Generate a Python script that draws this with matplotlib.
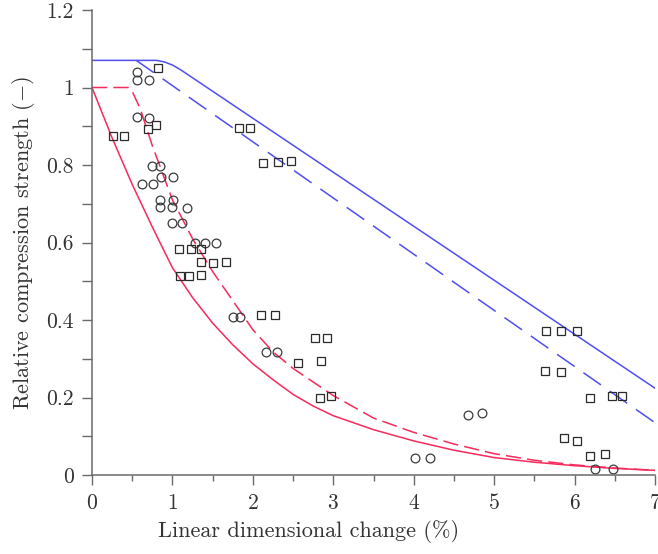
import matplotlib
matplotlib.use("Agg")
import matplotlib.pyplot as plt
import numpy as np

plt.rcParams['font.family'] = 'serif'
plt.rcParams['font.serif'] = ['cmr10', 'DejaVu Serif']
plt.rcParams['mathtext.fontset'] = 'cm'
plt.rcParams['axes.formatter.use_mathtext'] = True

# model curves
blue_x = [0, 0.8, 0.9, 1.0, 1.1, 7.0]
blue_y = [1.07, 1.07, 1.066, 1.058, 1.046, 0.224]
blue_dash_x = [0.55, 7.0]
blue_dash_y = [1.07, 0.135]

red_x = [0, 0.25, 0.5, 0.75, 1.0, 1.25, 1.5, 1.75, 2.0, 2.25, 2.5, 2.75, 3.0,
         3.5, 4.0, 4.5, 5.0, 5.5, 6.0, 6.5, 7.0]
red_y = [1.0, 0.87, 0.75, 0.64, 0.535, 0.458, 0.392, 0.336, 0.287, 0.246,
         0.208, 0.178, 0.153, 0.117, 0.088, 0.064, 0.045, 0.033, 0.024,
         0.017, 0.012]
red_dash_x = [0, 0.45, 0.5, 0.6, 0.75, 1.0, 1.25, 1.5, 1.75, 2.0, 2.25, 2.5,
              3.0, 3.5, 4.0, 4.5, 5.0, 5.5, 6.0, 6.5, 7.0]
red_dash_y = [1.0, 1.0, 0.99, 0.945, 0.85, 0.71, 0.61, 0.525, 0.45, 0.375,
              0.318, 0.275, 0.205, 0.147, 0.11, 0.08, 0.055, 0.038, 0.026,
              0.018, 0.012]

# measured points
circ_x = [0.56, 0.56, 0.71, 0.56, 0.71, 0.74, 0.85, 0.62, 0.76, 0.86, 1.01,
          0.84, 1.01, 0.85, 1.0, 1.18, 0.99, 1.12, 1.28, 1.41, 1.54, 1.75,
          1.84, 2.16, 2.30, 4.68, 4.85, 4.01, 4.20, 6.26, 6.48]
circ_y = [1.04, 1.02, 1.02, 0.925, 0.922, 0.798, 0.798, 0.75, 0.75, 0.77, 0.77,
          0.71, 0.71, 0.692, 0.692, 0.688, 0.651, 0.651, 0.6, 0.6, 0.6, 0.407,
          0.407, 0.317, 0.317, 0.155, 0.159, 0.043, 0.043, 0.015, 0.015]
sq_x = [0.82, 0.80, 0.70, 0.26, 0.40, 1.08, 1.23, 1.35, 1.35, 1.51, 1.66,
        1.10, 1.21, 1.35, 2.10, 2.28, 2.77, 2.92, 2.56, 2.85, 2.84, 2.97,
        1.83, 1.96, 2.13, 2.31, 2.48, 5.64, 5.83, 6.03, 5.63, 5.83, 6.19,
        6.46, 6.59, 5.87, 6.03, 6.19, 6.38]
sq_y = [1.05, 0.903, 0.892, 0.876, 0.876, 0.582, 0.582, 0.582, 0.55, 0.546,
        0.549, 0.514, 0.514, 0.517, 0.413, 0.413, 0.353, 0.353, 0.288, 0.294,
        0.2, 0.204, 0.895, 0.895, 0.806, 0.809, 0.811, 0.372, 0.372, 0.372,
        0.268, 0.267, 0.2, 0.204, 0.204, 0.095, 0.089, 0.05, 0.053]

x_ticks = [0, 1, 2, 3, 4, 5, 6, 7]
y_ticks = [0, 0.2, 0.4, 0.6, 0.8, 1.0, 1.2]
y_labels = ['0', '0.2', '0.4', '0.6', '0.8', '1', '1.2']

blue = '#4f4ff0'
red = '#f72a5c'
grey = '#6a6a6a'

fig = plt.figure(figsize=(6.58, 5.54), dpi=100)
ax = fig.add_axes([92/658, 79/554, 563/658, 465/554])

ax.plot(blue_x, blue_y, color=blue, lw=1.1)
ax.plot(blue_dash_x, blue_dash_y, color=blue, lw=1.1, dashes=(14, 7))
ax.plot(red_x, red_y, color=red, lw=1.1)
ax.plot(red_dash_x, red_dash_y, color=red, lw=1.1, dashes=(10, 4))

ax.plot(circ_x, circ_y, 'o', ms=6.3, mfc='none', mec='#3a3a3a', mew=0.9,
        clip_on=False)
ax.plot(sq_x, sq_y, 's', ms=5.6, mfc='none', mec='#2a2a2a', mew=0.9,
        clip_on=False)

ax.set_xlim(0, 7)
ax.set_ylim(0, 1.2)
ax.set_xticks(x_ticks)
ax.set_xticks(np.arange(0.5, 7, 1.0), minor=True)
ax.set_yticks(y_ticks)
ax.set_yticklabels(y_labels)
ax.set_yticks(np.arange(0.1, 1.2, 0.2), minor=True)

for s in ['top', 'right']:
    ax.spines[s].set_visible(False)
for s in ['left', 'bottom']:
    ax.spines[s].set_color(grey)
    ax.spines[s].set_linewidth(1.1)

ax.tick_params(which='major', direction='out', length=7, width=1, color=grey,
               labelsize=15.5, labelcolor='#333333', pad=6)
ax.tick_params(axis='x', which='minor', direction='out', length=4, width=1,
               color=grey)
ax.tick_params(axis='y', which='minor', direction='out', length=7, width=1,
               color=grey)

ax.set_xlabel('Linear dimensional change (%)', fontsize=16, color='#333333')
ax.xaxis.set_label_coords(0.384, -0.096)
ax.set_ylabel('Relative compression strength ($-$)', fontsize=16,
              color='#333333', labelpad=7)

fig.savefig('out.png', dpi=100)
